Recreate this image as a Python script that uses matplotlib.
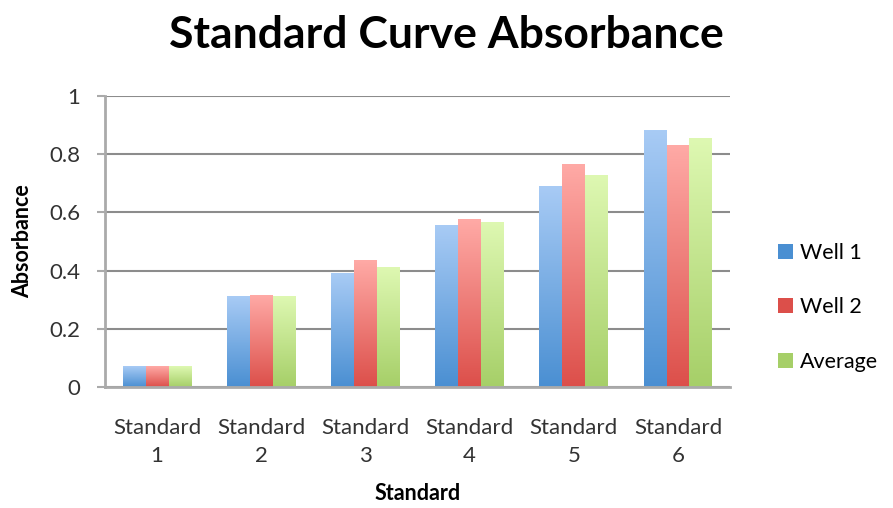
import matplotlib
matplotlib.use("Agg")
import matplotlib.pyplot as plt
import numpy as np
from matplotlib.colors import LinearSegmentedColormap
from matplotlib.patches import Patch

# Datos de absorbancia por estándar
standards = ["Standard\n1", "Standard\n2", "Standard\n3", "Standard\n4", "Standard\n5", "Standard\n6"]
well_1 = [0.07, 0.31, 0.39, 0.555, 0.69, 0.88]
well_2 = [0.07, 0.315, 0.435, 0.577, 0.766, 0.828]
average = [0.07, 0.31, 0.41, 0.564, 0.728, 0.853]
series_names = ["Well 1", "Well 2", "Average"]

# Degradados (color abajo, color arriba) como en Excel
gradients = [("#4a8fd2", "#a8cbf5"),
             ("#dc4f4a", "#ffaaa6"),
             ("#a6cf68", "#def8b2")]

plt.rcParams["font.family"] = ["Lato", "DejaVu Sans"]

fig = plt.figure(figsize=(8.93, 5.08), dpi=100)
ax = fig.add_axes([0.1176, 0.238, 0.7, 0.573])

x = np.arange(len(standards))
width = 0.22
grad = np.linspace(0, 1, 256).reshape(-1, 1)

for i, (values, (c0, c1)) in enumerate(zip([well_1, well_2, average], gradients)):
    cmap = LinearSegmentedColormap.from_list("g%d" % i, [c0, c1])
    bars = ax.bar(x + (i - 1) * width, values, width, color="none", linewidth=0)
    for b in bars:
        x0, h = b.get_x(), b.get_height()
        ax.imshow(grad, extent=[x0, x0 + width, 0, h], origin="lower",
                  cmap=cmap, aspect="auto", zorder=2)

ax.set_xlim(-0.5, len(standards) - 0.5)
ax.set_ylim(0, 1)
ax.set_yticks([0, 0.2, 0.4, 0.6, 0.8, 1])
ax.set_yticklabels(["0", "0.2", "0.4", "0.6", "0.8", "1"])
ax.set_xticks(x)
ax.set_xticklabels(standards, linespacing=1.55)

ax.yaxis.grid(True, color="#8c8c8c", linewidth=1.5, zorder=0)
ax.set_axisbelow(True)
for s in ["top", "right"]:
    ax.spines[s].set_visible(False)
for s in ["left", "bottom"]:
    ax.spines[s].set_color("#aaaaaa")
    ax.spines[s].set_linewidth(2)
ax.tick_params(axis="y", length=6, width=1.5, color="#aaaaaa", labelsize=16,
               labelcolor="#333333", pad=12)
ax.tick_params(axis="x", length=0, labelsize=16, labelcolor="#333333", pad=22)

ax.set_xlabel("Standard", fontsize=15.5, fontweight="bold", labelpad=12)
ax.set_ylabel("Absorbance", fontsize=15.5, fontweight="bold", labelpad=11)
fig.suptitle("Standard Curve Absorbance", x=0.5, y=0.97, fontsize=32,
             fontweight="bold")

handles = [Patch(facecolor=c0, label=n) for n, (c0, c1) in zip(series_names, gradients)]
fig.legend(handles=handles, loc="center left", bbox_to_anchor=(0.85, 0.395),
           frameon=False, fontsize=15.5, handlelength=0.7, handleheight=0.7,
           handletextpad=0.3, labelspacing=1.6)

fig.savefig("out.png", dpi=100)
